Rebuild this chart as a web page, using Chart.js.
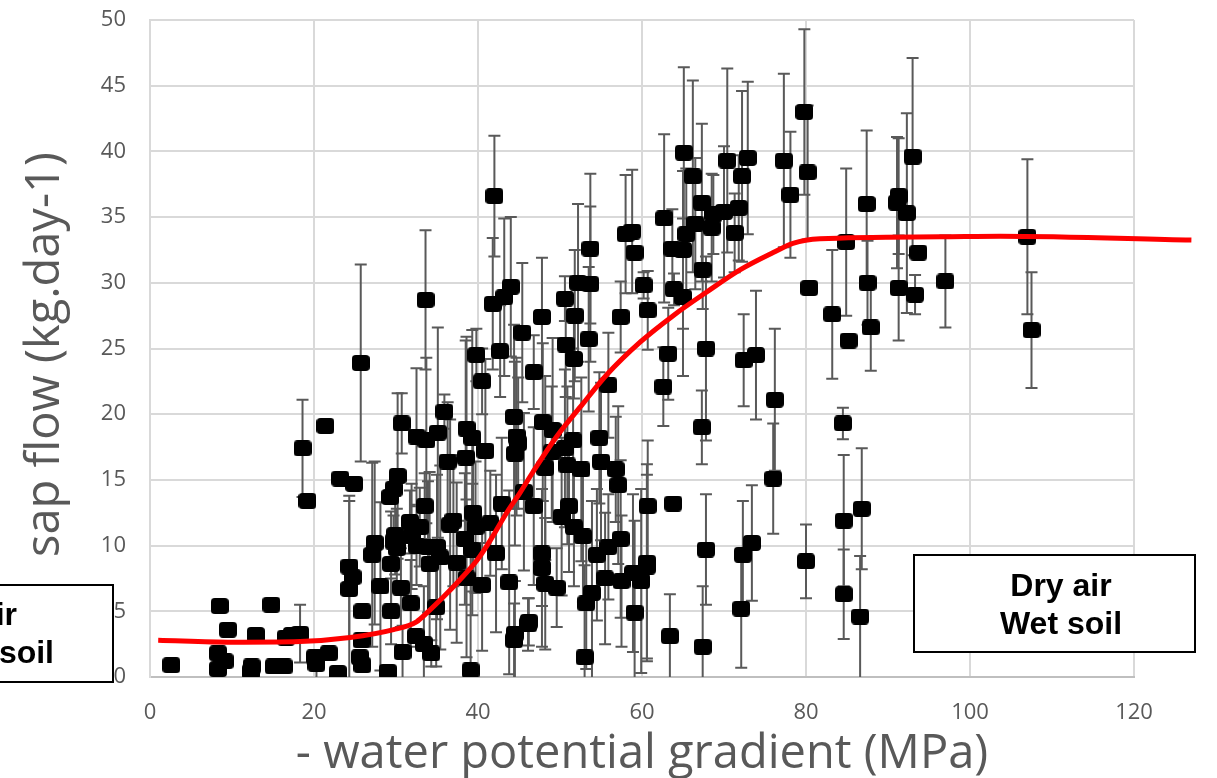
<!DOCTYPE html>
<html>
<head>
<meta charset="utf-8">
<title>Sap flow</title>
<script src="https://cdn.jsdelivr.net/npm/chart.js@4"></script>
<style>
  html, body { margin: 0; padding: 0; background: #fff; overflow: hidden; }
  #wrap { width: 1217px; height: 778px; }
</style>
</head>
<body>
<div id="wrap"><canvas id="chart"></canvas></div>
<script>
// values, ten per line so the three lists stay aligned
const gradient = [
  2.6, 8.5, 9.5, 8.3, 9.1, 8.3, 12.9, 12.4, 12.3, 14.8,
  15.1, 16.3, 16.6, 17.3, 18.3, 18.6, 19.2, 21.4, 20.1, 20.3,
  21.8, 22.9, 23.2, 24.9, 24.3, 24.7, 24.3, 25.9, 25.8, 25.6,
  25.9, 25.7, 27.1, 27.4, 28.1, 29, 29.4, 29.4, 29.3, 29.7,
  30.2, 30.7, 29.9, 29.7, 30.1, 31.7, 32.9, 31.9, 32.5, 33.9,
  35, 35.4, 34.1, 30.6, 31.8, 30.8, 32.4, 33.4, 34.3, 34.9,
  33.5, 32.5, 33.7, 35.1, 35.9, 36.3, 38.5, 38.6, 39.3, 40.9,
  37, 36.6, 39.4, 39.7, 41.5, 38.4, 39.3, 37.4, 38.6, 40.5,
  42.9, 42.2, 43.8, 44.4, 44.7, 44.9, 44.5, 45.6, 46.8, 47.9,
  49.1, 49, 50.6, 51.6, 48.2, 50.9, 52.6, 54.8, 55, 56.8,
  57.1, 51.1, 50.2, 51.7, 52.8, 57.4, 55.9, 54.5, 60.7, 63.8,
  47.8, 47.8, 48.2, 49.6, 46.2, 44.5, 44.4, 46.1, 39.1, 53,
  59.1, 63.4, 53.2, 53.9, 55.5, 57.5, 58.9, 59.9, 60.6, 60.6,
  67.8, 67.4, 33.6, 42, 41.8, 43.2, 44, 42.7, 39.8, 40.5,
  45.4, 47.8, 46.8, 50.6, 51.8, 50.7, 51.7, 52.2, 53.7, 53.7,
  53.5, 55.9, 57.4, 58, 58.8, 59.1, 60.2, 60.7, 62.7, 63.7,
  65, 63.9, 65, 65.1, 65.4, 66.2, 66.5, 67.3, 68.7, 68.5,
  70, 71.8, 71.3, 70.4, 72.9, 72.2, 67.4, 67.8, 62.6, 63.2,
  73.9, 72.4, 76.2, 76, 77.3, 78.1, 79.8, 80.2, 80.4, 83.2,
  84.9, 85.2, 87.4, 87.5, 87.9, 91.3, 91.1, 92.3, 93, 93.7,
  91.3, 93.3, 97, 107, 107.5, 67.3, 84.5, 72.3, 73.4, 72.1,
  80, 84.6, 84.6, 86.8, 86.6,
];

const sapFlow = [
  0.9, 5.4, 3.6, 1.8, 1.2, 0.6, 3.2, 0.8, 0.4, 5.5,
  0.8, 0.8, 3, 3.2, 3.3, 17.4, 13.4, 19.1, 1.5, 1,
  1.8, 0.3, 15.1, 14.7, 8.4, 7.6, 6.7, 5, 2.8, 1.5,
  0.9, 23.9, 9.3, 10.2, 6.9, 0.4, 5, 8.6, 13.7, 14.3,
  15.3, 19.3, 10.8, 10.3, 9.8, 11.8, 11.4, 10.7, 10, 9.9,
  9.9, 9.1, 8.6, 6.8, 5.6, 1.9, 3.1, 2.5, 1.8, 5.3,
  13, 18.3, 18, 18.6, 20.2, 16.4, 16.7, 18.9, 18.2, 17.2,
  11.9, 11.6, 12.5, 11.4, 11.7, 10.5, 9.7, 8.7, 7.5, 7,
  13.2, 9.4, 7.2, 19.8, 18.3, 17.8, 17, 14.1, 13, 19.4,
  18.8, 17.1, 17.4, 18, 15.9, 16.1, 15.8, 18.2, 16.4, 15.8,
  14.6, 13, 12.2, 11.4, 10.7, 10.5, 9.9, 9.3, 13, 13.2,
  9.4, 8.3, 7.1, 6.8, 4.2, 3.3, 2.8, 4, 0.5, 1.5,
  4.9, 3.1, 5.6, 6.4, 7.5, 7.3, 7.9, 7.3, 8.4, 8.7,
  9.7, 2.3, 28.7, 36.6, 28.4, 28.9, 29.7, 24.8, 24.5, 22.5,
  26.2, 27.4, 23.2, 28.8, 27.5, 25.3, 24.2, 30, 29.9, 32.6,
  25.7, 22.2, 27.4, 33.7, 33.9, 32.3, 29.8, 27.9, 34.9, 32.6,
  32.5, 29.5, 28.9, 39.9, 33.7, 38.1, 34.5, 36.1, 35.2, 34.2,
  35.4, 35.7, 33.8, 39.3, 39.5, 38.1, 31, 25, 22.1, 24.6,
  24.5, 24.1, 21.1, 15.1, 39.3, 36.7, 43, 38.4, 29.6, 27.6,
  33.1, 25.6, 36, 30, 26.6, 36.6, 36.1, 35.3, 39.6, 32.3,
  29.6, 29.1, 30.1, 33.5, 26.4, 19, 19.3, 9.3, 10.2, 5.2,
  8.8, 11.9, 6.3, 12.8, 4.6,
];

const sapError = [
  0, 0, 0, 0, 0, 0, 0, 0, 0, 0,
  0, 0, 0, 0, 2.2, 3.7, 0, 0, 0, 1,
  0, 0, 0, 0, 5.4, 0, 6.7, 0, 0, 0,
  0, 7.5, 7, 6.2, 6.4, 0, 2.5, 4, 0, 0,
  6.3, 2.3, 3, 2, 3, 2.4, 3, 4, 3, 5,
  5.5, 7, 7, 3, 3.3, 2, 0, 4.4, 1, 4.5,
  2.5, 5.2, 6.3, 8, 1.3, 4.5, 8.9, 7, 8.2, 7,
  5, 8, 6, 5, 4, 5, 5, 6.1, 6, 5,
  5, 6, 7, 7, 6, 5, 7, 6, 6, 6,
  7, 5, 6, 7, 7, 6, 7, 5, 6, 4,
  6, 5, 6, 4.5, 5, 6, 4, 5, 5, 0,
  4, 6, 5, 3, 1.8, 4, 2.8, 2, 9, 7,
  7, 3.2, 5, 7, 5, 5, 6, 7, 7, 7.5,
  4.2, 4.6, 5.3, 4.6, 5, 6, 5.3, 3.5, 2, 2.5,
  5.3, 4.5, 2.8, 1.7, 5, 4, 3, 6, 5.9, 5.7,
  5.5, 4, 2.7, 4.5, 4.7, 0, 1, 3, 6.4, 3,
  6, 1.2, 6, 6.5, 5, 7.3, 5, 6, 3, 4.1,
  5, 4, 3, 7, 5.8, 6.5, 3, 7, 3, 3.5,
  4.9, 3.5, 5.4, 4.2, 6.6, 4.8, 6.3, 5.1, 0, 4.9,
  5.6, 0, 5.6, 3.2, 3.3, 4.4, 5, 7.6, 7.5, 0,
  4, 1.5, 3.5, 5.9, 4.4, 2.8, 1.2, 4.1, 4.4, 4.5,
  2.8, 5, 3.4, 4.6, 4.6,
];

// fitted curve, it runs on past the end of the x axis
const curveX = [1, 10, 18.3, 24.4, 29.7, 32.5, 33.8, 35.8, 37.8, 39.9, 41.5, 43.5, 45.1, 46.7, 49.6, 52.8, 55.7, 59.8, 63.8, 67.9, 72, 76, 78.4, 81.7, 96.3, 103.7, 127];
const curveY = [2.8, 2.65, 2.7, 3, 3.6, 4.2, 4.9, 6.1, 7.4, 8.9, 10.4, 12.5, 14, 15.6, 18.3, 20.8, 23, 25.5, 27.5, 29.3, 31, 32.3, 33, 33.35, 33.5, 33.55, 33.25];

const xTicks = [0, 20, 40, 60, 80, 100, 120];
const yTicks = [0, 5, 10, 15, 20, 25, 30, 35, 40, 45, 50];

const xTitle = '- water potential gradient (MPa)';
const yTitle = 'sap flow (kg.day-1) '; // trailing space nudges it down, it sits below centre in the picture

const GREY_TEXT = '#595959';
const GRID = '#d9d9d9';
const AXIS_FONT = '"Open Sans", sans-serif';

// rounded black square, same shape as the markers in the picture
const makeMarker = () => {
  const c = document.createElement('canvas');
  c.width = 18;
  c.height = 16;
  const g = c.getContext('2d');
  g.fillStyle = '#000';
  g.beginPath();
  g.roundRect(0, 0, 18, 16, 4);
  g.fill();
  return c;
};

const errorBars = {
  id: 'errorBars',
  beforeDatasetsDraw: (chart) => {
    const { ctx, scales: { x, y } } = chart;
    ctx.save();
    ctx.strokeStyle = GREY_TEXT;
    ctx.lineWidth = 2;
    gradient.forEach((g, i) => {
      const err = sapError[i];
      if (!err) return;
      const px = x.getPixelForValue(g);
      const top = y.getPixelForValue(sapFlow[i] + err);
      const low = sapFlow[i] - err;
      const bottom = y.getPixelForValue(Math.max(low, 0));
      ctx.beginPath();
      ctx.moveTo(px, top);
      ctx.lineTo(px, bottom);
      ctx.moveTo(px - 6, top);
      ctx.lineTo(px + 6, top);
      if (low > 0) {
        ctx.moveTo(px - 6, bottom);
        ctx.lineTo(px + 6, bottom);
      }
      ctx.stroke();
    });
    ctx.restore();
  },
};

// the two text boxes sit on top of everything, the left one runs off the page
const noteBoxes = {
  id: 'noteBoxes',
  afterDraw: (chart) => {
    const { ctx } = chart;
    ctx.save();
    ctx.fillStyle = '#fff';
    ctx.strokeStyle = '#000';
    ctx.lineWidth = 2;
    ctx.fillRect(-10, 585, 123, 97);
    ctx.strokeRect(-10, 585, 123, 97);
    ctx.fillRect(914, 555, 281, 97);
    ctx.strokeRect(914, 555, 281, 97);
    ctx.fillStyle = '#000';
    ctx.font = 'bold 32px "Liberation Sans", Arial, sans-serif';
    ctx.textAlign = 'center';
    ctx.fillText('Dry air', 1061, 596);
    ctx.fillText('Wet soil', 1061, 634);
    ctx.textAlign = 'right';
    ctx.fillText('Wet air', 17, 625);
    ctx.fillText('Dry soil', 54, 663);
    ctx.restore();
  },
};

new Chart(document.getElementById('chart'), {
  type: 'scatter',
  data: {
    datasets: [
      {
        label: 'curve',
        type: 'line',
        data: curveX.map((x, i) => ({ x, y: curveY[i] })),
        borderColor: '#ff0000',
        borderWidth: 5,
        pointRadius: 0,
        cubicInterpolationMode: 'monotone',
        clip: false,
        order: 0,
      },
      {
        label: 'sap flow',
        data: gradient.map((x, i) => ({ x, y: sapFlow[i] })),
        pointStyle: makeMarker(),
        backgroundColor: '#000',
        order: 1,
      },
    ],
  },
  plugins: [errorBars, noteBoxes],
  options: {
    responsive: true,
    maintainAspectRatio: false,
    animation: false,
    layout: { padding: { top: 20, right: 83, bottom: 0, left: 0 } },
    plugins: { legend: { display: false }, tooltip: { enabled: false } },
    scales: {
      x: {
        type: 'linear',
        min: 0,
        max: 120,
        afterFit: (s) => { s.height = 101; },
        afterBuildTicks: (s) => { s.ticks = xTicks.map(value => ({ value })); },
        grid: { color: GRID, lineWidth: 2, drawTicks: false },
        border: { color: '#bfbfbf', width: 2 },
        ticks: { color: GREY_TEXT, font: { family: AXIS_FONT, size: 22 }, padding: 23, maxRotation: 0 },
        title: { display: true, text: xTitle, color: GREY_TEXT, font: { family: AXIS_FONT, size: 47 }, padding: { top: 0, bottom: -5 } },
      },
      y: {
        min: 0,
        max: 50,
        afterFit: (s) => { s.width = 150; s.paddingTop = 0; },
        afterBuildTicks: (s) => { s.ticks = yTicks.map(value => ({ value })); },
        grid: { color: GRID, lineWidth: 2, drawTicks: false },
        border: { color: GRID, width: 2 },
        ticks: { color: GREY_TEXT, font: { family: AXIS_FONT, size: 22 }, padding: 24 },
        title: { display: true, text: yTitle, color: GREY_TEXT, font: { family: AXIS_FONT, size: 47 }, padding: { top: 17, bottom: 0 } },
      },
    },
  },
});
</script>
</body>
</html>
